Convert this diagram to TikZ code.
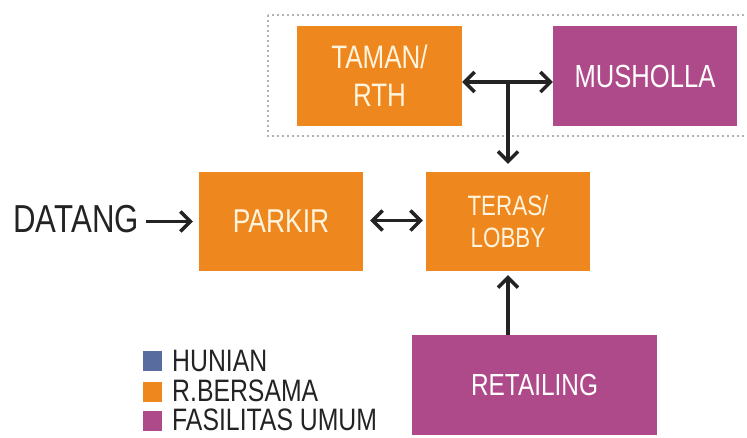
\documentclass[tikz,border=0pt]{standalone}
\usepackage{fontspec}
\setmainfont[FakeStretch=0.8]{Liberation Sans}
\usetikzlibrary{arrows.meta}
\definecolor{orng}{RGB}{238,135,30}
\definecolor{mgnt}{RGB}{174,74,138}
\definecolor{bluu}{RGB}{88,108,160}
\definecolor{ink}{RGB}{35,35,35}
\definecolor{cream}{RGB}{255,244,222}
\tikzset{
  tipx/.tip={Straight Barb[length=10pt,width=20pt,line width=3.4pt]},
  box/.style={rectangle, inner sep=0pt, align=center},
  obox/.style={box, fill=orng, text=cream},
  mbox/.style={box, fill=mgnt, text=white},
  conn/.style={draw=ink, line width=3.4pt, -tipx},
  dconn/.style={draw=ink, line width=3.4pt, tipx-tipx},
  swatch/.style={rectangle, minimum width=19pt, minimum height=20pt, inner sep=0pt},
  legtext/.style={anchor=base west, inner sep=0pt, text=ink, font=\fontsize{31}{31}\selectfont},
}
\begin{document}
\begin{tikzpicture}[x=1pt,y=-1pt]
\useasboundingbox (0,0) rectangle (747,437);
\clip (0,0) rectangle (747,437);
% dotted group
\draw[gray!60, line width=2.2pt, dash pattern=on 2.2pt off 2.8pt] (268,15) rectangle (760,136);
% boxes
\node[obox, minimum width=165pt, minimum height=100pt, font=\fontsize{32.5}{38}\selectfont] (taman) at (379.5,76) {TAMAN/\\RTH};
\node[mbox, minimum width=184pt, minimum height=100pt, font=\fontsize{32}{32}\selectfont] (mush) at (645,76) {MUSHOLLA};
\node[obox, minimum width=164pt, minimum height=99pt, font=\fontsize{33}{33}\selectfont] (parkir) at (281,221.5) {PARKIR};
\node[obox, minimum width=164pt, minimum height=99pt, font=\fontsize{28}{32}\selectfont] (teras) at (508,221.5) {TERAS/\\LOBBY};
\node[mbox, minimum width=245pt, minimum height=100pt, font=\fontsize{30.5}{30.5}\selectfont] (retail) at (534.5,385) {RETAILING};
\node[anchor=east, inner sep=0pt, text=ink, font=\fontsize{39}{39}\selectfont] (datang) at (139,219) {DATANG};
% connectors
\draw[dconn] ([yshift=-6pt]taman.east) -- ([yshift=-6pt]mush.west);
\coordinate (j) at ([yshift=-6pt]taman.east -| teras.north);
\draw[conn, shorten >=8pt] (j) -- (teras.north);
\draw[conn, shorten <=7pt, shorten >=6pt] (datang.east |- parkir.west) -- (parkir.west);
\draw[dconn, shorten <=7pt, shorten >=3pt] ([yshift=1pt]parkir.east) -- ([yshift=1pt]teras.west);
\draw[conn, shorten >=4pt] (retail.north -| teras.south) -- (teras.south);
% legend
\node[swatch, fill=bluu] (s1) at (152.5,361) {};
\node[swatch, fill=orng] (s2) at (152.5,391.5) {};
\node[swatch, fill=mgnt] (s3) at (152.5,421) {};
\node[legtext] (l1) at (172,371) {HUNIAN};
\node[legtext] (l2) at (172,401.5) {R.BERSAMA};
\node[legtext] (l3) at (172,430.5) {FASILITAS UMUM};
\end{tikzpicture}
\end{document}
